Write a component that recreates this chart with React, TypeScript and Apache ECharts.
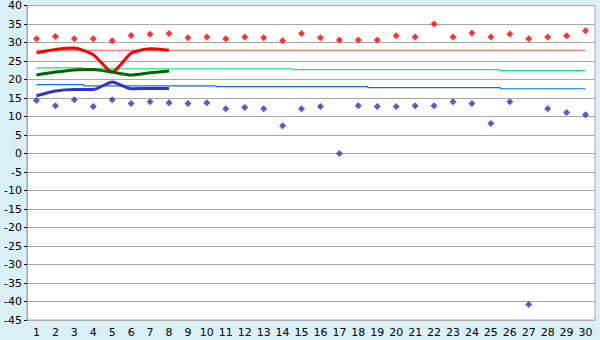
import React, { useEffect, useRef } from "react";
import * as echarts from "echarts";

const days = Array.from({ length: 30 }, (_, i) => String(i + 1));

const maxTemps = [31.0, 31.6, 31.0, 31.0, 30.5, 31.9, 32.2, 32.4, 31.3, 31.5, 31.0, 31.5, 31.3, 30.5, 32.4, 31.3, 30.7, 30.7, 30.7, 31.8, 31.5, 35.0, 31.5, 32.6, 31.5, 32.3, 31.0, 31.5, 31.8, 33.2];
const minTemps = [14.3, 12.9, 14.5, 12.7, 14.5, 13.5, 14.0, 13.75, 13.5, 13.75, 12.1, 12.4, 12.1, 7.5, 12.1, 12.7, 0.0, 12.9, 12.7, 12.7, 12.9, 12.9, 14.0, 13.5, 8.1, 14.0, -40.8, 12.1, 11.05, 10.5];

const avgMax = [27.2, 28.1, 28.5, 26.7, 22.0, 27.1, 28.3, 27.9];
const avgMean = [21.2, 22.0, 22.6, 22.7, 22.0, 21.2, 21.8, 22.3];
const avgMin = [15.6, 16.9, 17.3, 17.3, 19.3, 17.5, 17.6, 17.6];

const normMax = [27.85, 27.85, 27.85, 27.85, 27.85, 27.85, 27.85, 27.85, 27.85, 27.85, 27.85, 27.85, 27.85, 27.85, 27.85, 27.85, 27.85, 27.85, 27.85, 27.85, 27.85, 27.85, 27.85, 27.85, 27.85, 27.85, 27.85, 27.85, 27.85, 27.85];
const normMean = [23.15, 23.15, 23.15, 22.9, 22.9, 22.9, 22.9, 22.9, 22.9, 22.9, 22.9, 22.9, 22.9, 22.9, 22.65, 22.65, 22.65, 22.65, 22.65, 22.65, 22.65, 22.65, 22.65, 22.65, 22.65, 22.4, 22.4, 22.4, 22.4, 22.4];
const normMin = [18.6, 18.6, 18.6, 18.3, 18.3, 18.3, 18.3, 18.3, 18.3, 18.3, 18.05, 18.05, 18.05, 18.05, 18.05, 18.05, 18.05, 18.05, 17.8, 17.8, 17.8, 17.8, 17.8, 17.8, 17.8, 17.5, 17.5, 17.5, 17.5, 17.5];

const FONT = "DejaVu Sans";

export default function App() {
  const ref = useRef<HTMLDivElement>(null);
  useEffect(() => {
    document.body.style.margin = "0";
    const chart = echarts.init(ref.current!, null, { renderer: "svg" });
    const thin = (data: number[], color: string) => ({
      type: "line",
      data,
      step: "middle",
      symbol: "none",
      lineStyle: { color, width: 1.2 },
      silent: true,
      z: 2,
    });
    const thick = (data: number[], color: string) => ({
      type: "line",
      data,
      smooth: 0.2,
      symbol: "none",
      lineStyle: { color, width: 3 },
      silent: true,
      z: 3,
    });
    const dots = (data: number[], color: string) => ({
      type: "scatter",
      data,
      symbol: "diamond",
      symbolSize: 7,
      itemStyle: { color },
      z: 4,
    });
    chart.setOption({
      animation: false,
      backgroundColor: "#DAF0F7",
      grid: {
        left: 27,
        right: 5,
        top: 5,
        bottom: 20,
        show: true,
        backgroundColor: "#ffffff",
        borderColor: "#A8A8A8",
        borderWidth: 1,
      },
      xAxis: {
        type: "category",
        data: days,
        boundaryGap: true,
        axisLine: { lineStyle: { color: "#A8A8A8" } },
        axisTick: { alignWithLabel: true, length: 5, lineStyle: { color: "#000" } },
        axisLabel: { color: "#000", fontSize: 11, fontFamily: FONT, margin: 7, interval: 0 },
        splitLine: { show: false },
      },
      yAxis: {
        type: "value",
        min: -45,
        max: 40,
        interval: 5,
        axisLine: { show: true, lineStyle: { color: "#A8A8A8" } },
        axisTick: { show: true, length: 3, lineStyle: { color: "#000" } },
        axisLabel: { color: "#000", fontSize: 11, fontFamily: FONT, margin: 5 },
        splitLine: { lineStyle: { color: "#A8A8A8", width: 1 } },
      },
      series: [
        thin(normMax, "#FF7878"),
        thin(normMean, "#00EE77"),
        thin(normMin, "#0A72E8"),
        thick(avgMax, "#FF0000"),
        thick(avgMean, "#006600"),
        thick(avgMin, "#3333CC"),
        dots(maxTemps, "#FF0000"),
        dots(minTemps, "#2F2FC8"),
      ],
    });
    return () => chart.dispose();
  }, []);
  return (
    <div
      ref={ref}
      style={{ position: "fixed", left: 0, top: 0, width: 600, height: 340 }}
    />
  );
}
